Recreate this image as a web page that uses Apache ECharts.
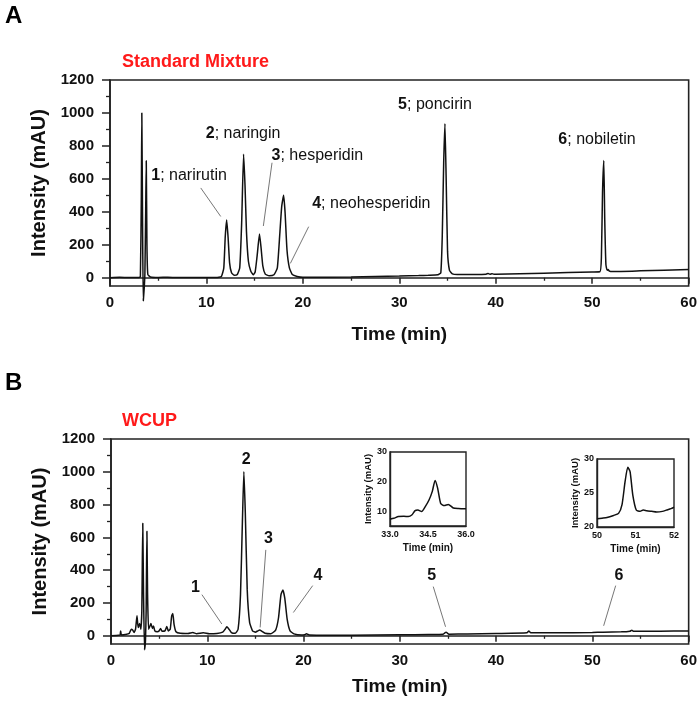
<!DOCTYPE html>
<html><head><meta charset="utf-8">
<script src="https://cdn.jsdelivr.net/npm/echarts@6/dist/echarts.min.js"></script>
<style>html,body{margin:0;padding:0;background:#fff}#c{width:700px;height:708px}</style>
</head><body><div id="c"></div>
<script>
// ---- data ----
const traceA = [[0,0],[1,3],[2,1],[3,2],[3.15,5],[3.25,500],[3.3,1000],[3.38,300],[3.45,-140],[3.55,-60],[3.62,30],[3.7,400],[3.76,710],[3.83,200],[3.92,20],[4.2,5],[5,2],[6,3],[7,1],[8,2],[9,1],[10,2],[11,1],[11.55,8],[11.8,60],[11.95,250],[12.1,350],[12.25,240],[12.4,90],[12.6,30],[12.9,15],[13.2,20],[13.45,60],[13.65,330],[13.85,750],[14.0,560],[14.15,280],[14.35,100],[14.6,40],[14.85,18],[15.05,35],[15.25,130],[15.5,265],[15.65,190],[15.85,70],[16.1,22],[16.5,12],[17.0,18],[17.35,60],[17.6,260],[17.8,430],[18.0,500],[18.15,400],[18.35,170],[18.6,60],[18.9,20],[19.4,8],[20,3],[25,5],[30,10],[32,13],[33,15],[34,18],[34.3,30],[34.45,250],[34.6,700],[34.73,935],[34.85,620],[35.0,160],[35.2,45],[35.5,24],[36,20],[38,20],[39,22],[39.2,26],[39.4,21],[39.6,25],[39.8,22],[40,22],[45,28],[50,35],[50.8,36],[50.95,120],[51.07,520],[51.2,711],[51.3,350],[51.42,80],[51.55,45],[51.65,50],[51.75,42],[51.9,38],[52.2,38],[55,42],[60,50]];
const traceB = [[0,0],[0.8,3],[0.95,5],[1.0,30],[1.08,5],[1.5,8],[1.9,15],[2.1,40],[2.25,35],[2.4,20],[2.55,40],[2.7,122],[2.82,50],[2.97,75],[3.1,40],[3.2,150],[3.3,686],[3.38,250],[3.48,-85],[3.58,-30],[3.65,150],[3.73,638],[3.8,250],[3.9,40],[4.05,60],[4.15,75],[4.3,45],[4.42,60],[4.55,30],[4.8,25],[5.0,30],[5.15,45],[5.3,28],[5.6,30],[5.8,57],[5.95,30],[6.15,40],[6.3,120],[6.42,136],[6.55,70],[6.75,25],[7.2,15],[8,14],[8.5,20],[8.9,13],[9.6,18],[10.2,12],[11,14],[11.6,22],[11.85,40],[12.03,55],[12.2,45],[12.5,20],[12.9,15],[13.2,40],[13.45,250],[13.65,700],[13.8,1002],[13.95,750],[14.15,280],[14.4,80],[14.7,30],[15.0,22],[15.25,30],[15.45,35],[15.65,28],[16.0,15],[16.6,12],[17.1,35],[17.4,110],[17.65,250],[17.85,280],[18.05,230],[18.3,100],[18.6,30],[19.0,12],[19.8,5],[20.1,7],[20.3,12],[20.6,5],[22,4],[25,3],[30,6],[33,8],[34.5,10],[34.8,22],[35.1,10],[37,11],[40,14],[43.2,18],[43.4,30],[43.6,18],[46,18],[50,20],[51.1,22],[53,24],[53.9,28],[54.1,34],[54.3,27],[57,28],[60,30]];
const inset1 = [[33.0,7.3],[33.15,7.6],[33.33,8.2],[33.55,8.3],[33.72,8.2],[33.86,8.7],[33.99,10.2],[34.1,10.4],[34.25,9.9],[34.38,11.4],[34.54,13.8],[34.67,16.7],[34.78,20.4],[34.88,17.8],[35.0,12.6],[35.14,11.9],[35.3,12.3],[35.5,11.1],[35.7,10.9],[36.0,10.8]];
const inset2 = [[50.0,21.2],[50.13,21.3],[50.26,21.4],[50.43,21.7],[50.56,22.0],[50.65,23.3],[50.73,26.7],[50.80,28.8],[50.86,28.1],[50.93,24.7],[51.02,22.5],[51.12,22.3],[51.2,22.5],[51.29,22.4],[51.42,22.3],[51.55,22.2],[51.7,22.3],[51.81,22.5],[51.92,22.7],[52.0,22.9]];
const yMajor = [0,200,400,600,800,1000,1200];
const yMinor = [100,300,500,700,900,1100];
const peaksA = [{num:'1',name:'narirutin',x:8.2,y:619},{num:'2',name:'naringin',x:13.8,y:872},{num:'3',name:'hesperidin',x:21.5,y:741},{num:'4',name:'neohesperidin',x:27.1,y:452},{num:'5',name:'poncirin',x:33.7,y:1053},{num:'6',name:'nobiletin',x:50.5,y:836}];
const leadersA = [[[9.41,545],[11.48,372]],[[16.8,698],[15.9,314]],[[20.6,310],[18.7,87]]];
const peaksB = [{num:'1',x:8.77,y:296},{num:'2',x:14.03,y:1076},{num:'3',x:16.35,y:591},{num:'4',x:21.5,y:367},{num:'5',x:33.3,y:367},{num:'6',x:52.77,y:367}];
const leadersB = [[[9.44,251],[11.51,72]],[[16.08,524],[15.49,51]],[[20.95,306],[18.94,142]],[[33.47,300],[34.75,55]],[[52.42,306],[51.17,61]]];

// ---- chart ----
const FF = "'Liberation Sans', Arial, sans-serif";
const chart = echarts.init(document.getElementById('c'), null, {renderer:'canvas'});
const plain = v => String(v);

function mainX(gi, gap){
  return {type:'value', gridIndex:gi, min:0, max:60, interval:10,
    axisLine:{lineStyle:{color:'#222',width:1.6}},
    axisTick:{show:true,inside:false,length:6,lineStyle:{color:'#222',width:1.5}},
    minorTick:{show:true,splitNumber:2,length:3,lineStyle:{color:'#222',width:1.3}},
    splitLine:{show:false}, minorSplitLine:{show:false},
    axisLabel:{fontFamily:FF,fontWeight:'bold',fontSize:15,color:'#111',margin:9,formatter:plain},
    name:'Time (min)', nameLocation:'middle', nameGap:gap,
    nameTextStyle:{fontFamily:FF,fontWeight:'bold',fontSize:19,color:'#111'}};
}
function mainY(gi){
  return {type:'value', gridIndex:gi, min:-50, max:1200,
    axisLine:{show:true,lineStyle:{color:'#222',width:1.6}},
    axisTick:{show:true,inside:false,length:8,customValues:yMajor,lineStyle:{color:'#222',width:1.5}},
    splitLine:{show:false},
    axisLabel:{customValues:yMajor,fontFamily:FF,fontWeight:'bold',fontSize:15,color:'#111',margin:16,formatter:plain},
    name:'Intensity (mAU)', nameLocation:'middle', nameGap:56, nameRotate:90,
    nameTextStyle:{fontFamily:FF,fontWeight:'bold',fontSize:20,color:'#111'}};
}
function minorY(gi){
  return {type:'value', gridIndex:gi, min:-50, max:1200, position:'left', offset:0,
    axisLine:{show:false}, axisLabel:{show:false}, splitLine:{show:false},
    axisTick:{show:true,inside:false,length:4,customValues:yMinor,lineStyle:{color:'#222',width:1.3}}};
}
function insetX(gi,min,max,interval,dec){
  return {type:'value', gridIndex:gi, min:min, max:max, interval:interval,
    axisLine:{lineStyle:{color:'#222',width:1.4}},
    axisTick:{show:false}, splitLine:{show:false},
    axisLabel:{fontFamily:FF,fontWeight:'bold',fontSize:9,color:'#111',margin:4,
      formatter:v=>v.toFixed(dec)},
    name:'Time (min)', nameLocation:'middle', nameGap:17,
    nameTextStyle:{fontFamily:FF,fontWeight:'bold',fontSize:10,color:'#111'}};
}
function insetY(gi,min,max,vals,gap){
  return {type:'value', gridIndex:gi, min:min, max:max,
    axisLine:{show:true,lineStyle:{color:'#222',width:1.4}},
    axisTick:{show:false}, splitLine:{show:false},
    axisLabel:{customValues:vals,fontFamily:FF,fontWeight:'bold',fontSize:9,color:'#111',margin:3,formatter:plain},
    name:'Intensity (mAU)', nameLocation:'middle', nameGap:gap, nameRotate:90,
    nameTextStyle:{fontFamily:FF,fontWeight:'bold',fontSize:9.5,color:'#111'}};
}
const lineStyleMain = {color:'#111',width:1.5};
function peakLabels(list){
  return {symbol:'circle', symbolSize:1, silent:true, itemStyle:{color:'rgba(0,0,0,0)'},
    label:{show:true, position:'inside', color:'#111', fontFamily:FF,
      formatter:p=>p.data.lbl,
      rich:{b:{fontFamily:FF,fontWeight:'bold',fontSize:16,color:'#111'},
            r:{fontFamily:FF,fontSize:16,color:'#111'}}},
    data:list.map(p=>({coord:[p.x,p.y], lbl: p.name ? '{b|'+p.num+'}{r|; '+p.name+'}' : '{b|'+p.num+'}'}))};
}
function leaders(list){
  return {symbol:['none','none'], silent:true, label:{show:false},
    lineStyle:{color:'#777',width:1,type:'solid'},
    data:list.map(l=>[{coord:l[0]},{coord:l[1]}])};
}

const option = {
  animation:false,
  backgroundColor:'#fff',
  grid:[
    {left:110, right:10, top:80, bottom:422, show:true, borderColor:'#222', borderWidth:1.6, backgroundColor:'transparent'},
    {left:111, right:11, top:439, bottom:64, show:true, borderColor:'#222', borderWidth:1.6, backgroundColor:'transparent'},
    {left:390, right:234, top:452, bottom:182, show:true, borderColor:'#222', borderWidth:1.4, backgroundColor:'#fff'},
    {left:597, right:26, top:459, bottom:181, show:true, borderColor:'#222', borderWidth:1.4, backgroundColor:'#fff'}
  ],
  xAxis:[ mainX(0,39), mainX(1,33), insetX(2,33,36,1.5,1), insetX(3,50,52,1,0) ],
  yAxis:[ mainY(0), mainY(1), insetY(2,5,30,[10,20,30],16), insetY(3,20,30,[20,25,30],15), minorY(0), minorY(1) ],
  series:[
    {type:'line', xAxisIndex:0, yAxisIndex:0, data:traceA, showSymbol:false, clip:false, smooth:0.15, lineStyle:lineStyleMain,
      markPoint:peakLabels(peaksA), markLine:leaders(leadersA)},
    {type:'line', xAxisIndex:1, yAxisIndex:1, data:traceB, showSymbol:false, clip:false, smooth:0.15, lineStyle:lineStyleMain,
      markPoint:peakLabels(peaksB), markLine:leaders(leadersB)},
    {type:'line', xAxisIndex:2, yAxisIndex:2, data:inset1, showSymbol:false, smooth:0.2, lineStyle:{color:'#111',width:1.5}},
    {type:'line', xAxisIndex:3, yAxisIndex:3, data:inset2, showSymbol:false, smooth:0.2, lineStyle:{color:'#111',width:1.5}}
  ],
  graphic:[
    {type:'text', x:5, y:16, style:{text:'A', fontFamily:FF, fontWeight:'bold', fontSize:24, fill:'#000', verticalAlign:'middle'}},
    {type:'text', x:122, y:62, style:{text:'Standard Mixture', fontFamily:FF, fontWeight:'bold', fontSize:18, fill:'#ff1a1a', verticalAlign:'middle'}},
    {type:'text', x:5, y:383, style:{text:'B', fontFamily:FF, fontWeight:'bold', fontSize:24, fill:'#000', verticalAlign:'middle'}},
    {type:'text', x:122, y:421, style:{text:'WCUP', fontFamily:FF, fontWeight:'bold', fontSize:18, fill:'#ff1a1a', verticalAlign:'middle'}}
  ]
};
chart.setOption(option);
</script></body></html>
